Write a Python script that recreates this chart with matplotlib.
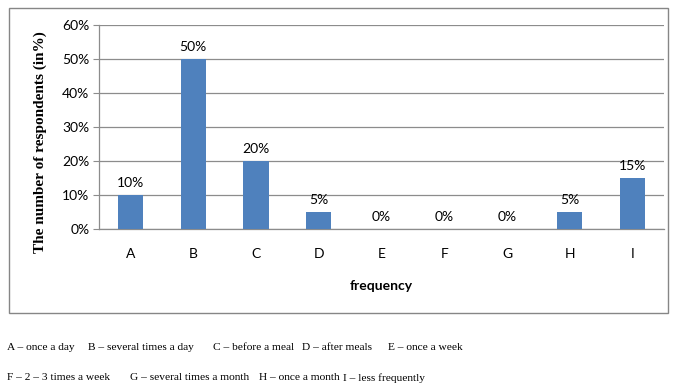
import matplotlib
matplotlib.use("Agg")
import matplotlib.pyplot as plt
from matplotlib.patches import Rectangle
from matplotlib.ticker import PercentFormatter

categories = ["A", "B", "C", "D", "E", "F", "G", "H", "I"]
shares = [10, 50, 20, 5, 0, 0, 0, 5, 15]
yticks = [0, 10, 20, 30, 40, 50, 60]

legend_line1 = [
    (7, "A – once a day"),
    (88, "B – several times a day"),
    (213, "C – before a meal"),
    (302, "D – after meals"),
    (388, "E – once a week"),
]
legend_line2 = [
    (7, "F – 2 – 3 times a week"),
    (130, "G – several times a month"),
    (259, "H – once a month"),
    (343, "I – less frequently"),
]

W, H = 673, 385
fig = plt.figure(figsize=(W / 100, H / 100), dpi=100)
fig.patch.set_facecolor("white")

sans = ["Lato", "DejaVu Sans"]
serif = ["Liberation Serif", "DejaVu Serif"]
fs = 10

# chart frame
fig.add_artist(Rectangle((9 / W, 1 - 313 / H), (668 - 9) / W, (313 - 8) / H,
                         transform=fig.transFigure, fill=False,
                         edgecolor="#868686", linewidth=1.0))

ax = fig.add_axes([99 / W, 1 - 229 / H, (664 - 99) / W, (229 - 25) / H])
x = list(range(len(categories)))
ax.bar(x, shares, width=0.4, color="#4F81BD", zorder=3)
ax.set_xlim(-0.5, len(categories) - 0.5)
ax.set_ylim(0, 60)
ax.set_yticks(yticks)
ax.yaxis.set_major_formatter(PercentFormatter(decimals=0))
ax.set_xticks(x)
ax.set_xticklabels(categories, fontfamily=sans, fontsize=fs)
for lbl in ax.get_yticklabels():
    lbl.set_fontfamily(sans)
    lbl.set_fontsize(fs)
ax.tick_params(axis="x", length=0, pad=14)
ax.tick_params(axis="y", length=4, color="#8C8C8C", pad=3)
ax.grid(axis="y", color="#8C8C8C", linewidth=0.9, zorder=0)
for side in ["top", "right"]:
    ax.spines[side].set_visible(False)
for side in ["left", "bottom"]:
    ax.spines[side].set_color("#8C8C8C")
    ax.spines[side].set_linewidth(0.9)

for xi, v in zip(x, shares):
    ax.annotate(f"{v}%", (xi, v), xytext=(0, 4), textcoords="offset points",
                ha="center", va="bottom", fontfamily=sans, fontsize=fs)

ax.set_xlabel("frequency", fontfamily=sans, fontsize=fs, fontweight="bold", labelpad=14)
fig.text(40 / W, 1 - 142 / H, "The number of respondents (in%)", rotation=90,
         ha="center", va="center", fontfamily=serif, fontsize=11, fontweight="bold")

for px, t in legend_line1:
    fig.text(px / W, 1 - 347 / H, t, ha="left", va="center", fontfamily=serif, fontsize=8.2)
for px, t in legend_line2:
    fig.text(px / W, 1 - 378 / H, t, ha="left", va="center", fontfamily=serif, fontsize=8.2)

fig.savefig("out.png", dpi=100)
